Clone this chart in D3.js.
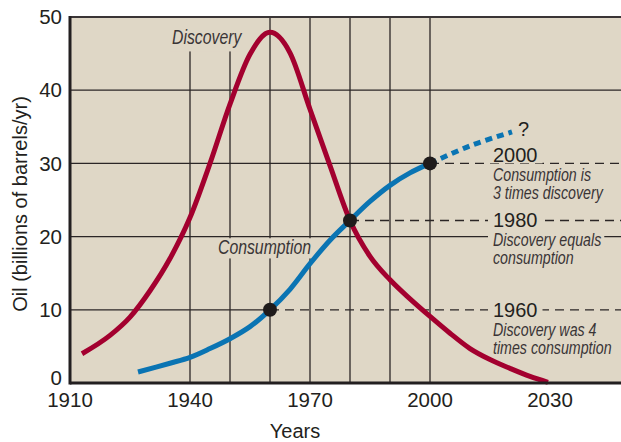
<!DOCTYPE html>
<html>
<head>
<meta charset="utf-8">
<script src="https://cdn.jsdelivr.net/npm/d3@7"></script>
<style>
  body { margin: 0; background: #fff; }
  svg { display: block; }
  text { font-family: "Liberation Sans", Arial, sans-serif; fill: #231f20; }
  .note { font-style: italic; fill: #3a3536; }
</style>
</head>
<body>
<div id="chart"></div>
<script>

// discovery curve (billions of barrels / yr)
const discoveryYears  = [1913, 1920, 1925, 1930, 1935, 1940, 1945, 1950, 1955, 1960, 1965, 1970, 1975, 1980, 1985, 1990, 1995, 2000, 2005, 2010, 2015, 2020, 2025, 2029.5];
const discoveryValues = [4, 6.5, 9, 12.6, 17, 22.6, 30, 38.1, 44.9, 47.9, 45.1, 37.4, 29.7, 22.2, 17.3, 14.1, 11.5, 9.1, 6.8, 4.7, 3.2, 2.0, 0.9, 0.1];

// consumption curve, measured part and projected (dotted) part
const consumptionYears  = [1927, 1935, 1940, 1945, 1950, 1955, 1960, 1965, 1970, 1975, 1980, 1985, 1990, 1995, 2000];
const consumptionValues = [1.5, 2.7, 3.5, 4.7, 6.05, 7.7, 10, 12.8, 16.3, 19.5, 22.2, 24.8, 27.0, 28.7, 30];
const projectionYears  = [2000, 2010, 2020.5];
const projectionValues = [30, 32.4, 34.3];

// marked points and their notes
const markerYears  = [1960, 1980, 2000];
const markerValues = [10, 22.2, 30];
const markerNotes  = [
    ["Discovery was 4", "times consumption"],
    ["Discovery equals", "consumption"],
    ["Consumption is", "3 times discovery"]
];

const xTicks = [1910, 1940, 1970, 2000, 2030];
const yTicks = [0, 10, 20, 30, 40, 50];
const gridYears = [1940, 1950, 1960, 1970, 1980, 1990, 2000];
const gridValues = [10, 20, 30, 40];

const width = 621, height = 442;
const margin = {top: 17, right: 0, bottom: 59, left: 70};

const bg = "#dfd7c6";
const red = "#a3002f";
const blue = "#0a74b3";
const narrow = 0.79; // squeeze for the condensed italic labels

const svg = d3.select("#chart").append("svg")
    .attr("width", width)
    .attr("height", height);

const x = d3.scaleLinear()
    .domain([1910, 2030])
    .range([margin.left, margin.left + 480]);

const y = d3.scaleLinear()
    .domain([0, 50])
    .range([height - margin.bottom, margin.top]);

// plot background
svg.append("rect")
    .attr("x", margin.left)
    .attr("y", margin.top)
    .attr("width", width - margin.left)
    .attr("height", y(0) - margin.top)
    .attr("fill", bg);

// grid
const grid = svg.append("g").attr("stroke", "#2b2626").attr("stroke-width", 1.3);

grid.selectAll(".vgrid")
    .data(gridYears)
    .join("line")
    .attr("x1", d => x(d)).attr("x2", d => x(d))
    .attr("y1", margin.top).attr("y2", y(0));

// horizontal grid: the 10 and 30 lines stop at the marked point and go on dashed
grid.selectAll(".hgrid")
    .data(gridValues)
    .join("line")
    .attr("x1", margin.left)
    .attr("x2", d => {
        const i = markerValues.indexOf(d);
        return i >= 0 ? x(markerYears[i]) : width;
    })
    .attr("y1", d => y(d)).attr("y2", d => y(d));

// dashed leaders from the marked points to the right edge
svg.append("g")
    .selectAll("line")
    .data(markerYears)
    .join("line")
    .attr("x1", d => x(d))
    .attr("x2", width)
    .attr("y1", (d, i) => y(markerValues[i]))
    .attr("y2", (d, i) => y(markerValues[i]))
    .attr("stroke", "#2b2626")
    .attr("stroke-width", 1.3)
    .attr("stroke-dasharray", "9,6");

// text with a background patch that hides the lines under it
// pad = [left, top, right, bottom]
function maskedText(parent, str, tx, ty, cls, size, sx, pad) {
    const g = parent.append("g")
        .attr("transform", `translate(${tx},${ty}) scale(${sx},1)`);
    const t = g.append("text")
        .attr("class", cls)
        .attr("font-size", size)
        .text(str);
    const b = t.node().getBBox();
    const top = Math.max(b.y - pad[1], margin.top + 1 - ty);
    g.insert("rect", "text")
        .attr("x", b.x - pad[0] / sx)
        .attr("y", top)
        .attr("width", b.width + (pad[0] + pad[2]) / sx)
        .attr("height", b.y + b.height + pad[3] - top)
        .attr("fill", bg);
    return t;
}

// notes on the right
const noteX = 493;
const labelDy = [7, 7, -1];
markerYears.forEach((yr, i) => {
    const g = svg.append("g");
    const base = y(markerValues[i]) + labelDy[i];
    maskedText(g, String(yr), noteX, base, "", 20, 1, [5, -1, 5, -3]);
    maskedText(g, markerNotes[i][0], noteX, base + 19, "note", 18, narrow, [5, -3, 3, -4]);
    maskedText(g, markerNotes[i][1], noteX, base + 37, "note", 18, narrow, [5, -3, 3, -4]);
});

// curve labels
const labels = svg.append("g");
maskedText(labels, "Discovery", 172, 44, "note", 20, narrow, [2, 40, 3, 3]);
maskedText(labels, "Consumption", 218, 254, "note", 20, narrow, [2, -2, 2, 0]);

// curves
const redLine = d3.line()
    .x(d => x(d[0]))
    .y(d => y(d[1]))
    .curve(d3.curveMonotoneX);

const blueLine = d3.line()
    .x(d => x(d[0]))
    .y(d => y(d[1]))
    .curve(d3.curveCatmullRom);

svg.append("path")
    .datum(d3.zip(discoveryYears, discoveryValues))
    .attr("d", redLine)
    .attr("fill", "none")
    .attr("stroke", red)
    .attr("stroke-width", 5);

svg.append("path")
    .datum(d3.zip(consumptionYears, consumptionValues))
    .attr("d", blueLine)
    .attr("fill", "none")
    .attr("stroke", blue)
    .attr("stroke-width", 5);

svg.append("path")
    .datum(d3.zip(projectionYears, projectionValues))
    .attr("d", blueLine)
    .attr("fill", "none")
    .attr("stroke", blue)
    .attr("stroke-width", 5)
    .attr("stroke-dasharray", "7,5");

svg.append("text")
    .attr("x", x(projectionYears[projectionYears.length - 1]) + 6)
    .attr("y", y(projectionValues[projectionValues.length - 1]) + 4)
    .attr("font-size", 20)
    .text("?");

// marked points
svg.append("g")
    .selectAll("circle")
    .data(markerYears)
    .join("circle")
    .attr("cx", d => x(d))
    .attr("cy", (d, i) => y(markerValues[i]))
    .attr("r", 7)
    .attr("fill", "#1f1b1b");

// frame: top border, left and bottom axes
svg.append("line")
    .attr("x1", margin.left).attr("x2", width)
    .attr("y1", margin.top).attr("y2", margin.top)
    .attr("stroke", "#3a3536").attr("stroke-width", 2);

svg.append("line")
    .attr("x1", margin.left).attr("x2", margin.left)
    .attr("y1", margin.top - 1).attr("y2", y(0) + 1.5)
    .attr("stroke", "#231f20").attr("stroke-width", 3);

svg.append("line")
    .attr("x1", margin.left).attr("x2", width)
    .attr("y1", y(0)).attr("y2", y(0))
    .attr("stroke", "#231f20").attr("stroke-width", 3);

// tick labels
svg.append("g")
    .selectAll("text")
    .data(yTicks)
    .join("text")
    .attr("x", margin.left - 8)
    .attr("y", d => Math.min(y(d), y(0) - 5))
    .attr("dy", "0.35em")
    .attr("text-anchor", "end")
    .attr("font-size", 20.5)
    .text(d => d);

svg.append("g")
    .selectAll("text")
    .data(xTicks)
    .join("text")
    .attr("x", d => x(d))
    .attr("y", 407)
    .attr("text-anchor", "middle")
    .attr("font-size", 20.5)
    .text(d => d);

// axis titles
svg.append("text")
    .attr("x", 295)
    .attr("y", 438)
    .attr("text-anchor", "middle")
    .attr("font-size", 20)
    .text("Years");

svg.append("text")
    .attr("transform", "translate(27,204) rotate(-90)")
    .attr("text-anchor", "middle")
    .attr("font-size", 20)
    .text("Oil (billions of barrels/yr)");

</script>
</body>
</html>
